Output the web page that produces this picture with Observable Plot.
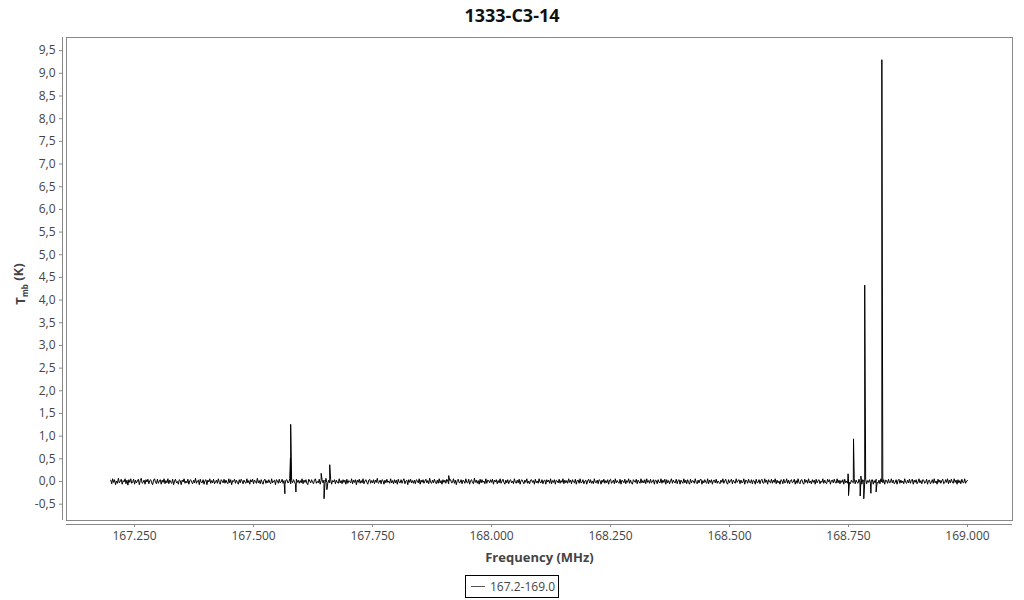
<!DOCTYPE html>
<html>
<head>
<meta charset="utf-8">
<script src="https://cdn.jsdelivr.net/npm/d3@7"></script>
<script src="https://cdn.jsdelivr.net/npm/@observablehq/plot@0.6"></script>
<style>
  body { margin: 0; background: #fff; font-family: "Open Sans", sans-serif; }
  #title { height: 30px; line-height: 30px; text-align: center; font-weight: bold; font-size: 18px; color: #111; }
  #chart svg { display: block; }
  #legend { display: flex; justify-content: center; margin-top: 5px; }
  #legend .box { border: 1px solid #000; padding: 0 3px 0 5px; height: 21px; display: flex; align-items: center; font-size: 12px; color: #444; }
  #legend .swatch { width: 14px; height: 1px; background: #555; margin-right: 5px; }
</style>
</head>
<body>
<div id="title">1333-C3-14</div>
<div id="chart"></div>
<div id="legend"><div class="box"><span class="swatch"></span><span id="legendLabel"></span></div></div>
<script>
const titleText = "1333-C3-14";
const seriesName = "167.2-169.0";
const xLabel = "Frequency (MHz)";
const yTicks = [-0.5, 0, 0.5, 1, 1.5, 2, 2.5, 3, 3.5, 4, 4.5, 5, 5.5, 6, 6.5, 7, 7.5, 8, 8.5, 9, 9.5];
const xTicks = [167.25, 167.5, 167.75, 168.0, 168.25, 168.5, 168.75, 169.0];

// Baseline channels: start frequency, channel step (MHz), values in hundredths of K
const freqStart = 167.2;
const freqStep = 0.002;
const baselineCentiK = [
  3,-5,6,-2,4,-7,1,-4,7,-3,0,5,-6,2,-1,6,-5,3,-8,4,
  -2,6,-4,-1,5,-6,3,-3,1,5,-7,2,7,-4,-2,3,-6,4,-1,5,
  -5,2,4,-3,-7,3,6,-2,-5,5,-4,1,4,-6,3,-2,6,-5,2,-3,
  6,-5,3,-2,-4,5,-7,1,5,-3,0,-6,4,2,-7,3,-1,6,-4,1,
  -3,5,-6,2,4,-2,-5,3,-3,7,-4,1,3,-7,5,-2,-3,4,-6,2,
  4,-7,3,-1,6,-4,2,-3,5,-5,-1,3,-4,6,-2,-6,4,1,-3,5,
  -4,3,-2,-5,6,-3,4,-7,2,0,5,-4,3,-2,-6,4,-3,5,1,-5,
  3,-2,-4,6,-3,2,-6,4,-1,5,-5,3,0,-4,7,-3,2,-5,4,-2,
  -6,3,5,-4,2,-3,4,-2,-5,6,-3,1,3,-7,4,2,-4,5,-3,-1,
  5,-4,2,-6,3,4,-3,-2,6,-5,2,-3,4,-1,-6,5,-2,3,-4,2,
  -3,6,-5,3,-2,4,-4,-7,5,1,-3,4,-2,-5,3,6,-4,0,-3,5,
  -6,2,4,-3,3,-5,7,-2,-4,3,-3,5,-6,2,-1,4,-5,3,-2,-4,
  6,-3,2,-5,4,-2,3,-6,5,-4,2,0,-3,6,-5,3,-2,4,-7,3,
  -2,5,-4,2,-3,6,-5,1,4,-2,-6,3,5,-4,2,-3,4,-5,3,-2,
  7,-4,-2,3,-5,4,2,-6,3,-3,5,-2,1,-4,6,-3,2,-5,4,-3,
  3,-6,5,-2,-3,4,-4,2,6,-5,1,3,-7,4,-2,5,-3,2,-4,3,
  -5,4,2,-3,6,-6,3,-2,4,-4,1,5,-3,2,-5,7,-2,-4,3,-3,
  5,-2,-5,3,-4,6,-3,2,-6,4,-2,3,-4,5,1,-5,2,4,-3,-2,
  6,-4,3,-7,2,5,-3,-2,4,-5,3,1,-4,6,-2,-3,5,-6,2,4,
  -3,-5,7,-2,3,-4,2,-6,5,-3,4,-2,1,-5,6,-4,3,2,-3,4,
  -2,5,-6,3,-1,4,-5,2,-3,6,-4,1,5,-2,-6,3,-3,4,-5,2,
  4,-3,1,-5,6,-2,-4,3,-3,5,-6,2,4,-1,-5,3,-2,6,-4,1,
  -5,3,4,-2,2,-6,5,-3,1,-4,6,-2,-3,4,-5,2,3,-6,4,-1,
  3,-4,6,-5,2,-2,4,-6,3,1,-3,5,-4,2,-2,6,-5,3,-3,2,
  -4,6,-2,3,-5,4,-1,-3,5,-6,2,3,-4,6,-3,-2,4,-5,1,3,
  -6,2,5,-3,4,-4,1,-5,6,-2,-3,3,-5,4,2,-6,3,-2,5,-4,
  2,-3,4,-6,3,5,-4,-1,3,-5,6,-3,2,-2,-4,5,-6,3,1,-3,
  5,-5,2,-2,6,-4,3,-3,-6,4,1,-2,5,-5,3,-1,-4,6,-3,2,
  -3,4,-5,6,-2,2,-4,5,-3,-1,4,-6,3,2,-5,4,-2,-3,6,-4,
  3,-2,5,-6,4,-3,2,-5,1,6,-4,3,-2,-3,5,-5,2,4,-6,3,
  -1,-4,6,-3,3,-5,4,-2,-6,5,-3,2,1,-4,6,-2,-5,3,-3,4,
  5,-6,2,-3,4,-2,-4,6,-5,3,-2,4,-6,2,3,-3,5,-4,1,-2,
  -5,3,-2,6,-4,1,5,-3,-6,4,-3,2,5,-5,3,-1,-4,6,-2,2,
  4,-5,3,-3,-2,6,-6,3,2,-4,5,-2,-3,4,-5,3,1,-6,5,-3,
  -2,4,-5,2,5,-3,-4,6,-2,3,-6,4,-1,-3,5,-4,3,-2,6,-5,
  3,-3,1,-6,4,2,-5,5,-3,-2,6,-4,3,-5,2,4,-3,-1,5,-6,
  2,-4,6,-2,-5,3,4,-3,-6,5,-2,3,-4,6,-3,1,-5,4,-2,3,
  -6,5,-3,2,4,-5,1,-2,6,-4,3,-3,-5,5,-1,4,-6,2,3,-3,
  5,-2,-4,6,-3,3,-5,2,-2,4,-6,5,-3,1,-4,6,-2,-5,3,-1,
  -3,6,-5,3,-2,-4,5,-3,2,-6,4,1,-3,5,-5,2,-2,4,-4,3,
  4,-6,2,-3,5,-2,-4,3,-5,6,-1,-3,4,-6,3,2,-4,5,-3,-2,
  6,-3,3,-5,-2,4,-6,2,5,-4,3,-3,1,-5,6,-2,-4,3,-3,5,
  -4,2,5,-6,3,-2,4,-5,-1,6,-3,2,-5,4,3,-4,-2,5,-6,2,
  3,-5,-2,4,-4,6,-3,1,-6,5,-2,3,-4,2,5,-5,-3,4,-2,6,
  -5,3,-3,5,-1,-4,6,-2,3,-6,4,-3,2,-5,5,-2,-3,6,-4,1,
  2
];

// Line features (spikes)
const featureFreq = [167.5658, 167.5775, 167.5780, 167.5890, 167.6420, 167.6480, 167.6540, 167.6600, 167.9100,
                     168.7490, 168.7500, 168.7605, 168.7745, 168.7760, 168.7820, 168.7840, 168.7970, 168.8080, 168.8200];
const featureTmb  = [-0.27, 0.52, 1.26, -0.23, 0.18, -0.38, -0.18, 0.37, 0.13,
                     0.17, -0.31, 0.94, -0.32, 0.12, -0.38, 4.33, -0.26, -0.23, 9.30];

const rows = [];
baselineCentiK.forEach((v, i) => rows.push({f: freqStart + i * freqStep, t: v / 100}));
featureFreq.forEach((f, i) => rows.push({f, t: featureTmb[i]}));
rows.sort((a, b) => a.f - b.f);

const xMin = 167.107, xMax = 169.0945, yMin = -0.86, yMax = 9.79;

const chart = Plot.plot({
  width: 1024,
  height: 540,
  marginTop: 7,
  marginBottom: 50,
  marginLeft: 66,
  marginRight: 12,
  style: {fontFamily: "Open Sans, sans-serif", fontSize: "12px", color: "#444", background: "#fff"},
  x: {domain: [xMin, xMax]},
  y: {domain: [yMin, yMax]},
  marks: [
    Plot.frame({stroke: "#888", strokeWidth: 1}),
    Plot.ruleX([xMin], {y1: yMin, y2: yMax, dx: -4, stroke: "#888"}),
    Plot.ruleY([yMin], {x1: xMin, x2: xMax, dy: 4, stroke: "#888"}),
    Plot.axisY({ticks: yTicks, tickFormat: d => d.toFixed(1).replace(".", ","), tickSize: 3, tickPadding: 4, dx: -4, stroke: "#888", label: null}),
    Plot.axisX({ticks: xTicks, tickFormat: d => d.toFixed(3), tickSize: 3, tickPadding: 4, dy: 4, stroke: "#888", label: null}),
    Plot.text([xLabel], {frameAnchor: "bottom", dy: 37, text: d => d, fontWeight: "bold", fontSize: 13, fill: "#444", lineAnchor: "middle"}),
    Plot.line(rows, {x: "f", y: "t", stroke: "#000", strokeWidth: 1})
  ]
});
document.getElementById("chart").appendChild(chart);
document.getElementById("legendLabel").textContent = seriesName;
document.getElementById("title").textContent = titleText;

// Y axis label with subscript
const svg = d3.select(chart);
const yl = svg.append("text")
  .attr("transform", "translate(25,254) rotate(-90)")
  .attr("text-anchor", "middle")
  .attr("font-weight", "bold")
  .attr("font-size", 13)
  .attr("fill", "#444")
  .attr("font-family", "Open Sans, sans-serif");
yl.append("tspan").text("T");
yl.append("tspan").attr("font-size", 8).attr("dy", "0.35em").text("mb");
yl.append("tspan").attr("dy", "-0.35em").text(" (K)");
</script>
</body>
</html>
